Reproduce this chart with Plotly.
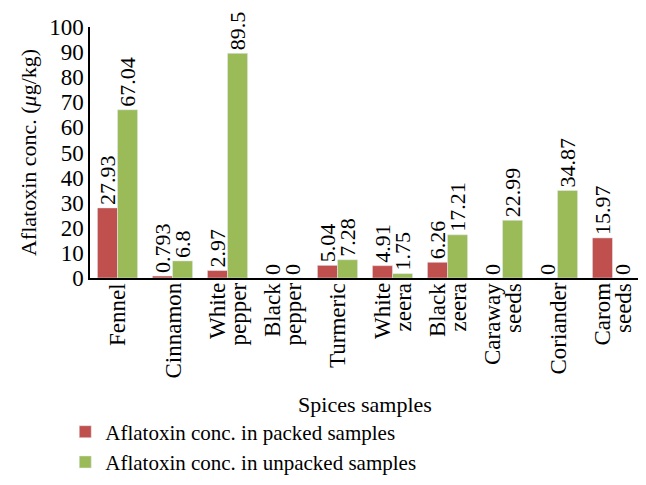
import plotly.graph_objects as go

categories = ["Fennel", "Cinnamon", "White pepper", "Black pepper", "Turmeric",
              "White zeera", "Black zeera", "Caraway seeds", "Coriander", "Carom seeds"]
tick_labels = ["Fennel", "Cinnamon", "White<br>pepper", "Black<br>pepper", "Turmeric",
               "White<br>zeera", "Black<br>zeera", "Caraway<br>seeds", "Coriander", "Carom<br>seeds"]
packed = [27.93, 0.793, 2.97, 0, 5.04, 4.91, 6.26, 0, 0, 15.97]
unpacked = [67.04, 6.8, 89.5, 0, 7.28, 1.75, 17.21, 22.99, 34.87, 0]
packed_labels = ["27.93", "0.793", "2.97", "0", "5.04", "4.91", "6.26", "0", "0", "15.97"]
unpacked_labels = ["67.04", "6.8", "89.5", "0", "7.28", "1.75", "17.21", "22.99", "34.87", "0"]

font_family = "Liberation Serif"

fig = go.Figure()
fig.add_trace(go.Bar(x=categories, y=packed,
                     name="Aflatoxin conc. in packed samples",
                     marker=dict(color="#C0504D"),
                     text=packed_labels, textposition="outside", textangle=-90,
                     constraintext="none", cliponaxis=False,
                     textfont=dict(size=22, color="black")))
fig.add_trace(go.Bar(x=categories, y=unpacked,
                     name="Aflatoxin conc. in unpacked samples",
                     marker=dict(color="#9BBB59"),
                     text=unpacked_labels, textposition="outside", textangle=-90,
                     constraintext="none", cliponaxis=False,
                     textfont=dict(size=22, color="black")))

# category labels drawn line by line so the two lines sit close together
line_gap = 21
for cat, lab in zip(categories, tick_labels):
    lines = lab.split("<br>")
    n = len(lines)
    for k, txt in enumerate(lines):
        fig.add_annotation(x=cat, y=0, xref="x", yref="paper",
                           text=txt, textangle=-90, showarrow=False,
                           xanchor="center", yanchor="top",
                           xshift=(k - (n - 1) / 2) * line_gap, yshift=-3,
                           font=dict(size=23, family=font_family, color="black"))

# page body adds a small vertical offset, top/bottom margins compensate
fig.update_layout(
    width=646, height=485,
    barmode="group", bargap=0.27, bargroupgap=0,
    plot_bgcolor="white", paper_bgcolor="white",
    font=dict(family=font_family, size=21, color="black"),
    margin=dict(l=82, r=14, t=19, b=215, autoexpand=False),
    showlegend=True,
    legend=dict(x=-0.045, y=-0.532, xanchor="left", yanchor="top",
                orientation="v", font=dict(size=21), tracegroupgap=0,
                itemwidth=30),
    xaxis=dict(showline=True, linecolor="black", linewidth=1.5, automargin=False,
               showticklabels=False, ticks="", showgrid=False,
               title=dict(text="Spices samples", standoff=118, font=dict(size=22))),
    yaxis=dict(range=[0, 100], dtick=10, showline=True, linecolor="black", linewidth=1.5,
               ticks="", showgrid=False, zeroline=False, automargin=False,
               title=dict(text="Aflatoxin conc. (<i>μ</i>g/kg)", standoff=6, font=dict(size=22)),
               tickfont=dict(size=23)),
)

fig.write_html("out.html")
